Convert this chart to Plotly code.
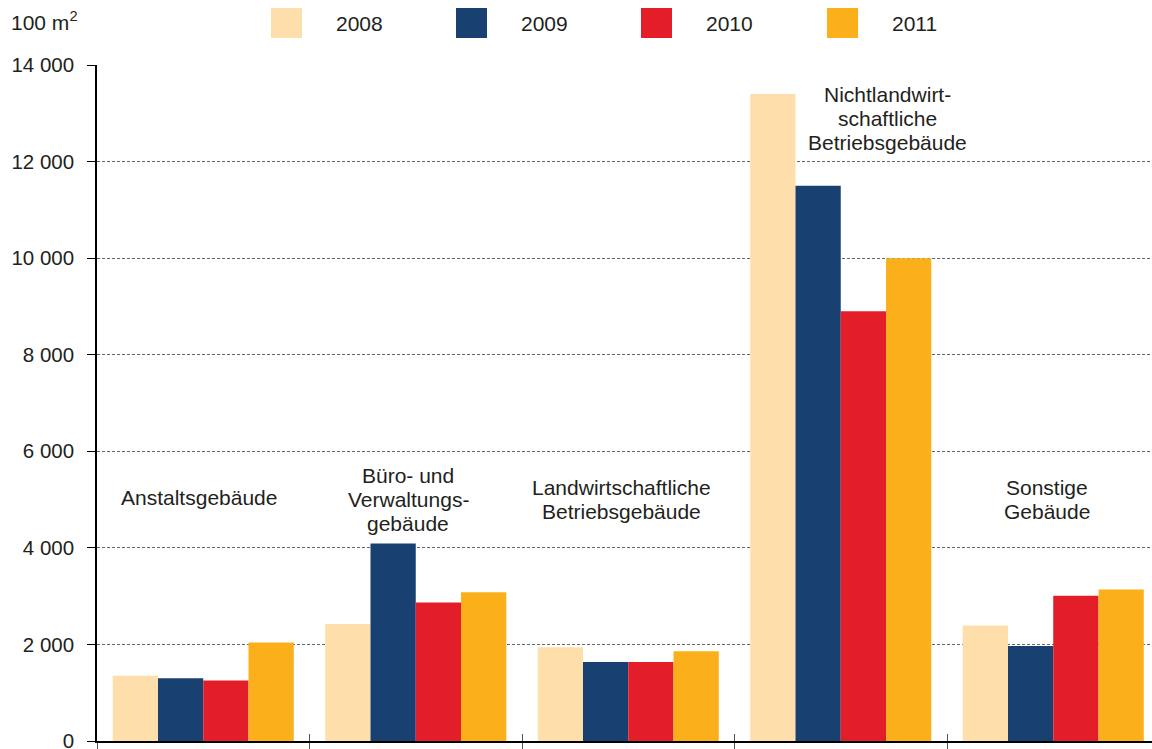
import plotly.graph_objects as go

categories = ["Anstaltsgebäude", "Büro- und<br>Verwaltungs-<br>gebäude",
              "Landwirtschaftliche<br>Betriebsgebäude",
              "Nichtlandwirt-<br>schaftliche<br>Betriebsgebäude",
              "Sonstige<br>Gebäude"]
years = ["2008", "2009", "2010", "2011"]
v2008 = [1350, 2425, 1940, 13400, 2390]
v2009 = [1300, 4090, 1635, 11500, 1970]
v2010 = [1255, 2870, 1635, 8900, 3010]
v2011 = [2040, 3080, 1860, 10000, 3140]
series = [v2008, v2009, v2010, v2011]
colors = ["#FEDFAC", "#184172", "#E31E28", "#FBB01B"]
ytick_vals = [0, 2000, 4000, 6000, 8000, 10000, 12000, 14000]
ytick_text = ["0", "2 000", "4 000", "6 000", "8 000", "10 000", "12 000", "14 000"]

FONT = "Liberation Sans, Arial, sans-serif"
TXT = "#231F20"
FS = 21

xs = list(range(len(categories)))
fig = go.Figure()
for name, vals, col in zip(years, series, colors):
    fig.add_trace(go.Bar(x=xs, y=vals, name=name, marker_color=col,
                         marker_line_width=0, showlegend=False))

# category labels (one annotation per line, 24px line pitch)
label_x = [-0.02, 0.965, 1.97, 3.22, 3.97]
label_y = [5050, 5500, 5250, 13380, 5250]   # y of first line centre
for c, lx, ly in zip(categories, label_x, label_y):
    for i, line in enumerate(c.split("<br>")):
        fig.add_annotation(x=lx, y=ly, text=line, showarrow=False, xref="x", yref="y",
                           xanchor="center", yanchor="middle", yshift=-24 * i,
                           font=dict(family=FONT, size=FS, color=TXT))

# custom legend
leg_x0 = [271, 456, 641, 827]
W = 1152
H = 749
for name, col, lx in zip(years, colors, leg_x0):
    fig.add_shape(type="rect", xref="paper", yref="paper",
                  x0=(lx - 97) / (W - 97), x1=(lx + 31 - 97) / (W - 97),
                  y0=(741 - 38) / 676, y1=(741 - 8) / 676,
                  fillcolor=col, line_width=0)
    fig.add_annotation(xref="paper", yref="paper", x=(lx + 63 - 97) / (W - 97),
                       y=(741 - 23) / 676, text=name, showarrow=False,
                       xanchor="left", yanchor="middle",
                       font=dict(family=FONT, size=FS, color=TXT))

fig.add_annotation(xref="paper", yref="paper", x=(9 - 97) / (W - 97),
                   y=(741 - 21) / 676, text="100 m<sup>2</sup>", showarrow=False,
                   xanchor="left", yanchor="middle",
                   font=dict(family=FONT, size=FS, color=TXT))

boundaries = [-0.5, 0.5, 1.5, 2.5, 3.5]
xrange = [-0.5, -0.5 + (W - 97) / 212.5]
fig.update_layout(
    width=W, height=H,
    margin=dict(l=97, r=0, t=65, b=8, autoexpand=False),
    paper_bgcolor="white", plot_bgcolor="white",
    barmode="group", bargap=0.148, bargroupgap=0,
    font=dict(family=FONT, size=FS, color=TXT),
    xaxis=dict(range=xrange, tickvals=boundaries, showticklabels=False,
               ticks="outside", ticklen=7, tickcolor="#555", tickwidth=1,
               showgrid=False, showline=True, linecolor="black", linewidth=1.5,
               zeroline=False),
    xaxis2=dict(range=xrange, tickvals=boundaries, showticklabels=False,
                overlaying="x", anchor="y", side="bottom",
                ticks="inside", ticklen=7, tickcolor="#555", tickwidth=1,
                showgrid=False, showline=False, zeroline=False),
    yaxis=dict(range=[0, 14000], tickvals=ytick_vals, ticktext=ytick_text,
               ticks="outside", ticklen=8, tickcolor="black", ticklabelstandoff=9,
               ticklabeloverflow="allow",
               showline=True, linecolor="black", linewidth=1.5,
               showgrid=True, gridcolor="#666", gridwidth=1, griddash="3px,2px",
               zeroline=False, tickfont=dict(family=FONT, size=20.5, color=TXT)),
)
# dummy trace to activate xaxis2
fig.add_trace(go.Scatter(x=[0], y=[0], xaxis="x2", mode="markers",
                         marker=dict(opacity=0), showlegend=False, hoverinfo="skip"))
fig.write_html("out.html", post_script="document.body.style.margin='0';",
               config={"displayModeBar": False})
